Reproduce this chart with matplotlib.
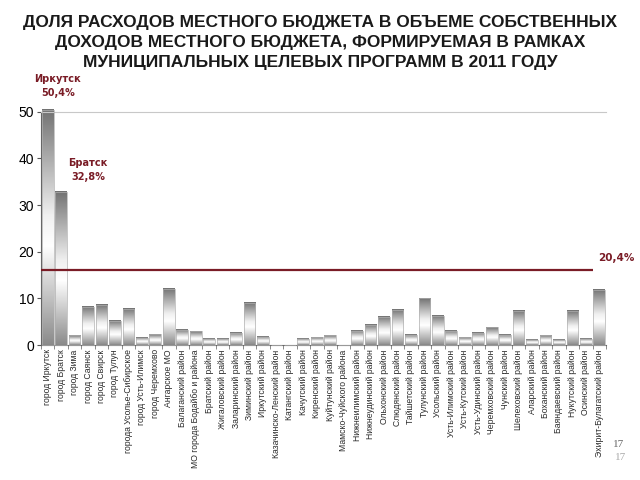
# -*- coding: utf-8 -*-
##доля расходов местного бюджета в рамках муниципальных целевых программ, 2011##
import numpy as np
import matplotlib
matplotlib.use("Agg")
import matplotlib.pyplot as plt
from matplotlib.colors import LinearSegmentedColormap

##данные: муниципальные образования и значения (%)##
municipalities = [
    "город Иркутск", "город Братск", "город Зима", "город Саянск", "город Свирск",
    "город Тулун", "города Усолье-Сибирское", "город Усть-Илимск", "город Черемхово",
    "Ангарское МО", "Балаганский район", "МО города Бодайбо и района",
    "Братский район", "Жигаловский район", "Заларинский район", "Зиминский район",
    "Иркутский район", "Казачинско-Ленский район", "Катангский район",
    "Качугский район", "Киренский район", "Куйтунский район",
    "Мамско-Чуйского района", "Нижнеилимский район", "Нижнеудинский район",
    "Ольхонский район", "Слюдянский район", "Тайшетский район", "Тулунский район",
    "Усольский район", "Усть-Илимский район", "Усть-Кутский район",
    "Усть-Удинский район", "Черемховский район", "Чунский район",
    "Шелеховский район", "Аларский район", "Боханский район",
    "Баяндаевский район", "Нукутский район", "Осинский район",
    "Эхирит-Булагатский район",
]
share = [
    50.4, 32.8, 2.1, 8.2, 8.6, 5.2, 7.8, 1.6, 2.3, 12.1, 3.3, 3.0,
    1.4, 1.4, 2.7, 9.1, 1.8, 0.0, 0.0, 1.3, 1.7, 2.1,
    0.0, 3.1, 4.4, 6.1, 7.6, 2.2, 10.0, 6.3, 3.1, 1.7,
    2.6, 3.8, 2.2, 7.4, 1.1, 2.1, 1.1, 7.4, 1.3, 11.8,
]
avg_line = 16.0          ##положение линии на графике##
avg_label = "20,4%"
callouts = [("Иркутск\n50,4%", 0.75, 55.5), ("Братск\n32,8%", 3.0, 37.5)]

title = ("ДОЛЯ РАСХОДОВ МЕСТНОГО БЮДЖЕТА В ОБЪЕМЕ СОБСТВЕННЫХ\n"
         "ДОХОДОВ МЕСТНОГО БЮДЖЕТА, ФОРМИРУЕМАЯ В РАМКАХ\n"
         "МУНИЦИПАЛЬНЫХ ЦЕЛЕВЫХ ПРОГРАММ В 2011 ГОДУ")

dark_red = "#7a1c26"

fig = plt.figure(figsize=(6.4, 4.8), dpi=100)
ax = fig.add_axes([0.064, 0.281, 0.883, 0.486])

##серый градиент: темно - светло - темно по высоте столбика##
cmap = LinearSegmentedColormap.from_list(
    "bar_grad", [(0.0, "#8a8a8a"), (0.42, "#ffffff"), (0.55, "#f0f0f0"), (1.0, "#727272")])
grad = np.linspace(0, 1, 256).reshape(-1, 1)

x = np.arange(len(municipalities))
bars = ax.bar(x, share, width=0.87, facecolor="none", edgecolor="#b0b0b0",
              linewidth=0.5, zorder=3, clip_on=False)
for b in bars:
    h = b.get_height()
    if h <= 0:
        continue
    im = ax.imshow(grad, extent=[b.get_x(), b.get_x() + b.get_width(), 0, h],
                   origin="lower", aspect="auto", cmap=cmap, zorder=2, clip_on=False)
    im.set_clip_path(b)

##линия среднего значения##
ax.hlines(avg_line, -0.5, 40.5, color=dark_red, linewidth=1.6, zorder=4)
ax.text(40.9, avg_line + 2.7, avg_label, color=dark_red, fontsize=7.5,
        fontweight="bold", family="DejaVu Sans", ha="left", va="center")

for txt, cx, cy in callouts:
    ax.text(cx, cy, txt, color=dark_red, fontsize=7, fontweight="bold",
            family="DejaVu Sans", ha="center", va="center", linespacing=1.5,
            clip_on=False)

ax.set_xlim(-0.5, len(municipalities) - 0.5)
ax.set_ylim(0, 50)
ax.set_yticks([0, 10, 20, 30, 40, 50])
ax.tick_params(axis="y", labelsize=10, length=3, color="#555555", pad=2)
for lab in ax.get_yticklabels():
    lab.set_family("Liberation Sans")

ax.set_xticks(x)
ax.set_xticklabels(municipalities, rotation=90, fontsize=6.2,
                   family="Liberation Sans", color="#2a2a2a")
ax.tick_params(axis="x", length=0, pad=3)
ax.set_xticks(np.arange(-0.5, len(municipalities), 1), minor=True)
ax.tick_params(axis="x", which="minor", length=3, color="#777777")

ax.spines["right"].set_visible(False)
ax.spines["top"].set_color("#c8c8c8")
ax.spines["left"].set_color("#666666")
ax.spines["bottom"].set_color("#666666")

##заголовок##
fig.text(0.5, 0.912, title, ha="center", va="center", fontsize=12.5,
         fontweight="bold", family="Liberation Sans", color="#1a1a1a",
         linespacing=1.4)

##номер слайда##
fig.text(0.966, 0.074, "17", fontsize=8, family="Liberation Serif",
         color="#666666", ha="center", va="center")
fig.text(0.969, 0.047, "17", fontsize=8, family="Liberation Serif",
         color="#aaaaaa", ha="center", va="center")

plt.savefig("out.png", dpi=100)
